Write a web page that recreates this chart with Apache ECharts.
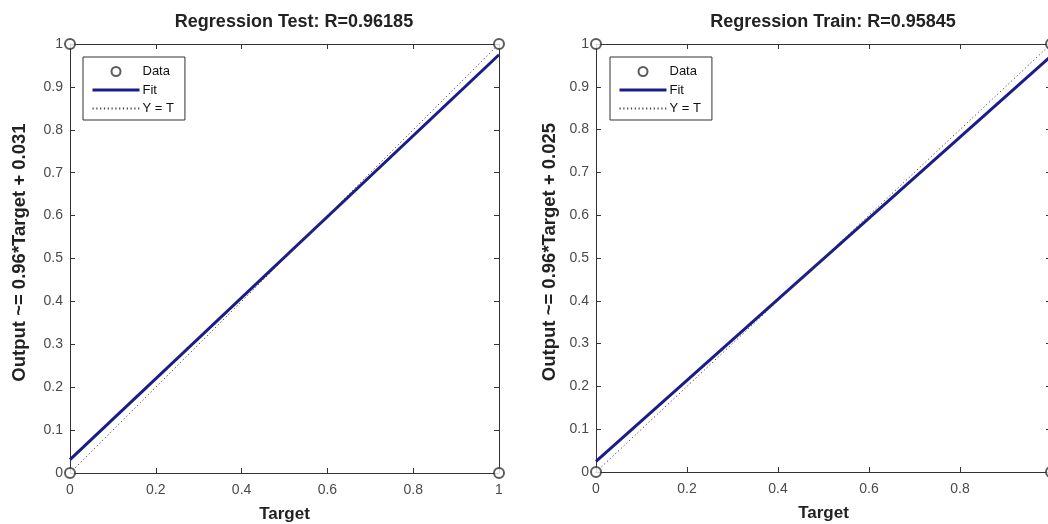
<!DOCTYPE html>
<html>
<head>
<meta charset="utf-8">
<script src="https://cdn.jsdelivr.net/npm/echarts@6/dist/echarts.min.js"></script>
<style>
html,body{margin:0;padding:0;background:#fff;}
#chart{width:1048px;height:524px;}
</style>
</head>
<body>
<div id="chart"></div>
<script>
// ---- data ----
const titles = ['Regression Test: R=0.96185', 'Regression Train: R=0.95845'];
const yNames = ['Output ~= 0.96*Target + 0.031', 'Output ~= 0.96*Target + 0.025'];
const xName = 'Target';
const testTargets = [0, 0, 1, 1];
const testOutputs = [0, 1, 0, 1];
const trainTargets = [0, 0, 1, 1];
const trainOutputs = [0, 1, 0, 1];
const fitX = [0, 1];
const testFitY = [0.031, 0.975];
const trainFitY = [0.025, 0.972];
const identityX = [0, 1];
const identityY = [0, 1];
const legendNames = ['Data', 'Fit', 'Y = T'];

const zip = (a, b) => a.map((v, i) => [v, b[i]]);

const FONT = 'Liberation Sans, Arial, sans-serif';
const AX = '#333';
const FIT = '#1c1c88';

const grids = [
  {left: 70, top: 44, width: 429, height: 429},
  {left: 596, top: 44, width: 455, height: 428}
];
const yNameGaps = [41, 37];

function xAxes(gi, name) {
  const base = {
    type: 'value', gridIndex: gi, min: 0, max: 1, interval: 0.2,
    axisLine: {show: true, onZero: false, lineStyle: {color: AX, width: 1}},
    axisTick: {show: true, inside: true, length: 5, lineStyle: {color: AX}},
    splitLine: {show: false}
  };
  return [
    Object.assign({}, base, {
      position: 'bottom', name: name, nameLocation: 'middle', nameGap: 33,
      nameTextStyle: {fontFamily: FONT, fontSize: 17, fontWeight: 'bold', color: '#222'},
      axisLabel: {fontFamily: FONT, fontSize: 14, color: '#4a4a4a', margin: 10}
    }),
    Object.assign({}, base, {position: 'top', axisLabel: {show: false}})
  ];
}
function yAxes(gi, name) {
  const base = {
    type: 'value', gridIndex: gi, min: 0, max: 1, interval: 0.1,
    axisLine: {show: true, onZero: false, lineStyle: {color: AX, width: 1}},
    axisTick: {show: true, inside: true, length: 5, lineStyle: {color: AX}},
    splitLine: {show: false}
  };
  return [
    Object.assign({}, base, {
      position: 'left', name: name, nameLocation: 'middle', nameGap: yNameGaps[gi],
      nameTextStyle: {fontFamily: FONT, fontSize: 18.5, fontWeight: 'bold', color: '#222', padding: [0, 0, 0, 12]},
      axisLabel: {fontFamily: FONT, fontSize: 14, color: '#4a4a4a', margin: 7}
    }),
    Object.assign({}, base, {position: 'right', axisLabel: {show: false}})
  ];
}

function seriesFor(gi, tx, ty, fy) {
  const xi = gi * 2, yi = gi * 2;
  return [
    {
      name: 'Data', type: 'scatter', xAxisIndex: xi, yAxisIndex: yi,
      data: zip(tx, ty), symbol: 'emptyCircle', symbolSize: 10, clip: false,
      itemStyle: {color: '#333', borderColor: '#333', borderWidth: 1},
      z: 5
    },
    {
      name: 'Fit', type: 'line', xAxisIndex: xi, yAxisIndex: yi,
      data: zip(fitX, fy), symbol: 'none', clip: false,
      lineStyle: {color: FIT, width: 3}, itemStyle: {color: FIT}, z: 3
    },
    {
      name: 'Y = T', type: 'line', xAxisIndex: xi, yAxisIndex: yi,
      data: zip(identityX, identityY), symbol: 'none', clip: false,
      lineStyle: {color: '#444', width: 1, type: [1.2, 2.6]}, itemStyle: {color: '#444'}, z: 4
    }
  ];
}

function legendFor(left) {
  return {
    left: left, top: 57, orient: 'vertical',
    data: [
      {name: 'Data', icon: 'emptyCircle'},
      {name: 'Fit', itemStyle: {opacity: 0}, lineStyle: {width: 3}},
      {name: 'Y = T', itemStyle: {opacity: 0}}
    ],
    itemWidth: 47, itemHeight: 9, itemGap: 5.5,
    backgroundColor: '#fff', borderColor: '#333', borderWidth: 1,
    padding: [8, 11, 5, 8], borderRadius: 0,
    textStyle: {fontFamily: FONT, fontSize: 13, color: '#111', padding: [0, 0, 0, -2]},
    selectedMode: false
  };
}

const option = {
  backgroundColor: '#fff',
  animation: false,
  title: [
    {text: titles[0], left: 289, top: 8, textAlign: 'center',
     textStyle: {fontFamily: FONT, fontSize: 18, fontWeight: 'bold', color: '#222'}},
    {text: titles[1], left: 828, top: 8, textAlign: 'center',
     textStyle: {fontFamily: FONT, fontSize: 18, fontWeight: 'bold', color: '#222'}}
  ],
  grid: grids.map(g => Object.assign({containLabel: false, outerBoundsMode: 'none'}, g)),
  xAxis: [...xAxes(0, xName), ...xAxes(1, xName)],
  yAxis: [...yAxes(0, yNames[0]), ...yAxes(1, yNames[1])],
  legend: [legendFor(83), legendFor(610)],
  series: [
    ...seriesFor(0, testTargets, testOutputs, testFitY),
    ...seriesFor(1, trainTargets, trainOutputs, trainFitY)
  ]
};

const chart = echarts.init(document.getElementById('chart'), null, {renderer: 'canvas'});
chart.setOption(option);
</script>
</body>
</html>
